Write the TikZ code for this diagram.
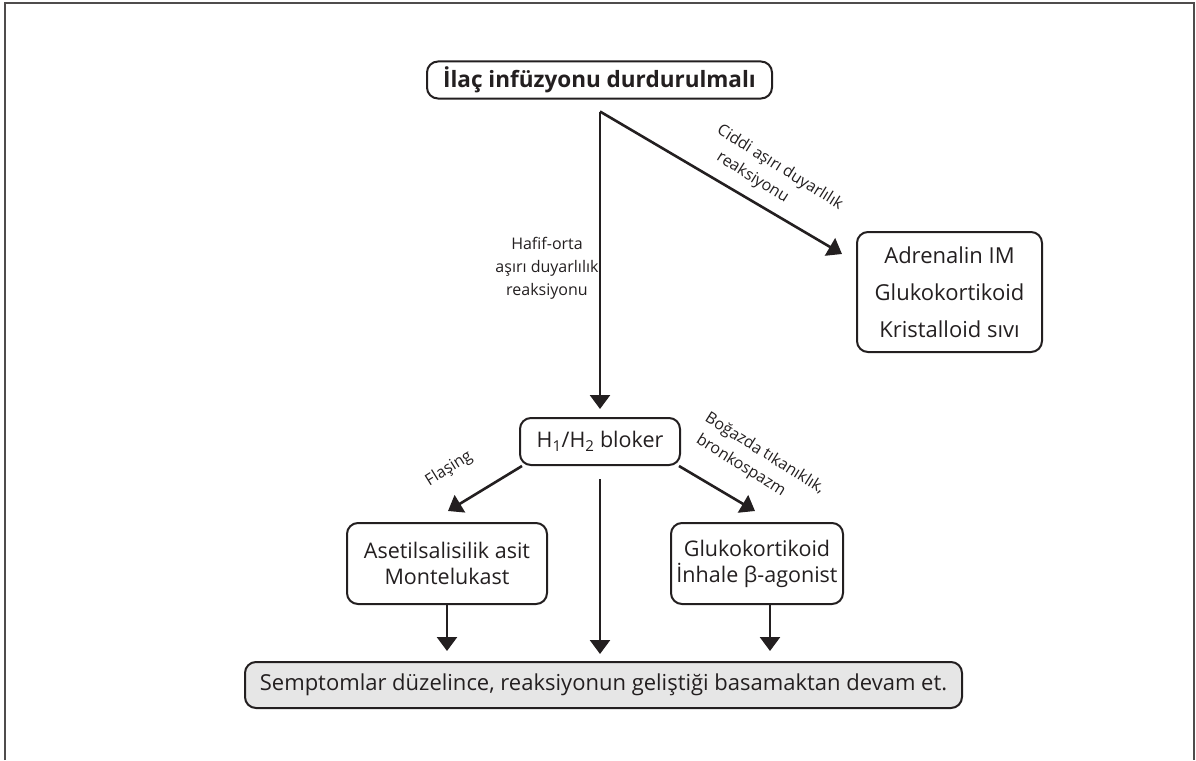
\documentclass[tikz,border=0pt]{standalone}
\usepackage{fontspec}
\setmainfont{Open Sans}
\usetikzlibrary{arrows.meta,calc}
\definecolor{ink}{HTML}{231F20}
\definecolor{boxgray}{HTML}{E6E6E6}
\tikzset{
  box/.style={draw=ink, line width=2pt, rounded corners=11pt, align=center,
    text=ink, inner sep=0pt, font=\fontsize{21.5}{26}\selectfont},
  flow/.style={draw=ink, line width=2.6pt, -{Triangle[length=14pt,width=20pt]}},
  note/.style={text=ink, font=\fontsize{16}{23}\selectfont, inner sep=0pt},
}
\begin{document}
\begin{tikzpicture}[x=1pt,y=-1pt]
\useasboundingbox (0,0) rectangle (1196,760);
% open frame round the chart
\draw[line width=2pt, ink!80] (5,760) -- (5,3) -- (1194,3) -- (1194,760);

% boxes
\node[box, minimum width=345, minimum height=37,
  font=\bfseries\fontsize{22.5}{28}\selectfont] (stop) at (599.5,80) {İlaç infüzyonu durdurulmalı};
\node[box, minimum width=185, minimum height=120,
  font=\fontsize{22}{37}\selectfont] (severe) at (949.5,292)
  {Adrenalin IM\\Glukokortikoid\\Kristalloid sıvı};
\node[box, minimum width=160, minimum height=47] (hb) at (600,441.5)
  {H\textsubscript{1}/H\textsubscript{2} bloker};
\node[box, minimum width=200, minimum height=81] (asa) at (447,563.5)
  {Asetilsalisilik asit\\Montelukast};
\node[box, minimum width=172, minimum height=81] (gk) at (757,563.5)
  {Glukokortikoid\\İnhale β-agonist};
\node[box, fill=boxgray, minimum width=717, minimum height=46,
  font=\fontsize{22}{26}\selectfont] (end) at (603.5,685)
  {Semptomlar düzelince, reaksiyonun geliştiği basamaktan devam et.};

% connectors
\coordinate (split) at ($(stop.south)+(0.5,12)$);
\coordinate (gkout) at ($(gk.south)+(13,0)$);
\draw[flow, shorten >=8pt] (split) -- (hb.north);
\draw[flow] (split) -- ($(severe.north west)+(-14,23)$);
\draw[flow] ($(hb.south west)+(3,0)$) -- ($(asa.north)+(1,-11)$);
\draw[flow] ($(hb.south east)+(-2,0)$) -- ($(gk.north)+(-2,-11)$);
\draw[flow, shorten >=7pt] ($(hb.south)+(0,13)$) -- (hb.south |- end.north);
\draw[flow, shorten >=10pt] (asa.south) -- (asa.south |- end.north);
\draw[flow, shorten >=10pt] (gkout) -- (gkout |- end.north);

% branch labels
\node[note, align=center] (mild) at (547,268) {Hafif-orta\\aşırı duyarlılık\\reaksiyonu};
\node[note, align=left, anchor=west, rotate=-32] (sev) at (712,139)
  {Ciddi aşırı duyarlılık\\\hspace*{14pt}reaksiyonu};
\node[note, rotate=32] (flush) at (449,469) {Flaşing};
\node[note, align=left, anchor=west, rotate=-32] (airway) at (700,427)
  {Boğazda tıkanıklık,\\\hspace*{4pt}bronkospazm};
\end{tikzpicture}
\end{document}
